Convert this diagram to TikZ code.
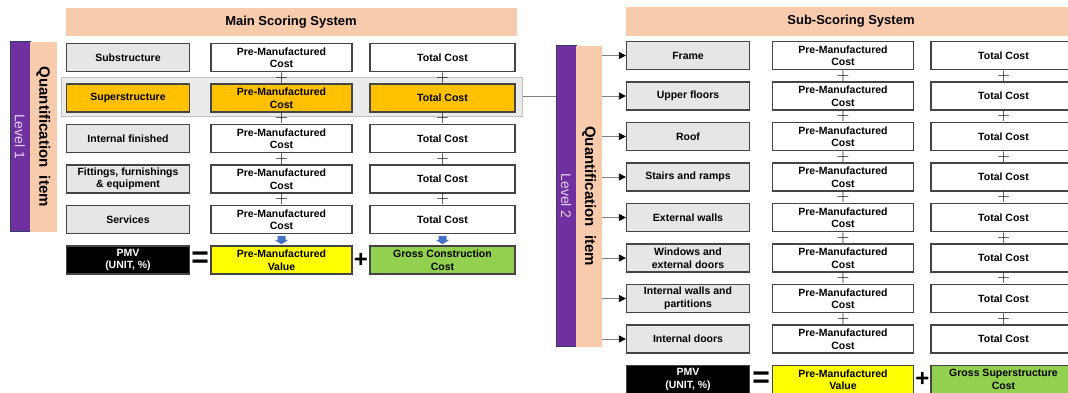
\documentclass[tikz,border=0pt]{standalone}
\usepackage{fontspec}
\setmainfont{Liberation Sans}
\usetikzlibrary{arrows.meta,calc}

\definecolor{headpeach}{HTML}{F8CBAD}
\definecolor{lvlpurple}{HTML}{7030A0}
\definecolor{lvlborder}{HTML}{2F3E63}
\definecolor{lvltext}{HTML}{E2D3F2}
\definecolor{itemgray}{HTML}{E6E6E6}
\definecolor{boxline}{HTML}{454545}
\definecolor{superorange}{HTML}{FFC000}
\definecolor{hlgray}{HTML}{EBEBEB}
\definecolor{hlline}{HTML}{BFBFBF}
\definecolor{pmvyellow}{HTML}{FFFF00}
\definecolor{grossgreen}{HTML}{92D050}
\definecolor{arrowblue}{HTML}{4472C4}

\tikzset{
  box/.style={draw=boxline, line width=1.2pt, rectangle, align=center, minimum height=28pt, inner sep=1pt,
    font=\fontsize{10.5}{12.5}\selectfont\bfseries},
  itembox/.style={box, fill=itemgray, minimum width=123pt},
  pmcbox/.style={box, fill=white, minimum width=141pt},
  totbox/.style={box, fill=white, minimum width=145pt},
  header/.style={fill=headpeach, minimum width=451pt, minimum height=28.5pt, font=\fontsize{13}{15}\selectfont\bfseries},
  hlbox/.style={fill=hlgray, draw=hlline, line width=0.8pt, minimum width=461pt, minimum height=38.3pt},
  lvlbar/.style={draw=lvlborder, line width=0.8pt, fill=lvlpurple, text=lvltext, rotate=-90, inner sep=0pt,
    font=\fontsize{14}{14}\selectfont},
  qibar/.style={fill=headpeach, rotate=-90, inner sep=0pt, font=\fontsize{15}{15}\selectfont\bfseries},
  plus/.style={inner sep=0pt, font=\fontsize{16}{16}\selectfont},
  bigop/.style={inner sep=0pt, font=\fontsize{30}{30}\selectfont\bfseries},
  bigplus/.style={inner sep=0pt, font=\fontsize{24}{24}\selectfont\bfseries},
  downarrow/.style={fill=arrowblue},
  feed/.style={draw=gray, line width=0.8pt},
  >={Triangle[length=7pt,width=7pt,color=black]}
}

\begin{document}
\begin{tikzpicture}[x=1pt, y=-1pt, node distance=40.5pt]
    \useasboundingbox (0,0) rectangle (1068,392);

    % main scoring system
    \node[header] (main) at (291,21.75) {Main Scoring System};
    \node[lvlbar, minimum width=190pt, minimum height=20pt] (lv1) at (20,136.7) {Level 1};
    \node[qibar, minimum width=190pt, minimum height=26.7pt] (qi1) at (43.35,136.7) {Quantification\ \ item};
    \node[hlbox] (hl) at (291.85,96.85) {};

    \node[itembox] (subs) at (128,57.5) {Substructure};
    \node[itembox, fill=superorange, below of=subs] (sups) {Superstructure};
    \node[itembox, below of=sups] (intf) {Internal finished};
    \node[itembox, below of=intf] (fitt) {Fittings, furnishings\\\& equipment};
    \node[itembox, below of=fitt] (serv) {Services};
    \node[box, fill=black, text=white, minimum width=123pt, below of=serv] (pmv1) {PMV\\(UNIT, \%)};

    \node[pmcbox] (subsp) at (281.5,57.5) {Pre-Manufactured\\Cost};
    \node[pmcbox, fill=superorange, below of=subsp] (supsp) {Pre-Manufactured\\Cost};
    \node[pmcbox, below of=supsp] (intfp) {Pre-Manufactured\\Cost};
    \node[pmcbox, below of=intfp] (fittp) {Pre-Manufactured\\Cost};
    \node[pmcbox, below of=fittp] (servp) {Pre-Manufactured\\Cost};
    \node[pmcbox, fill=pmvyellow, below of=servp] (val1) {Pre-Manufactured\\Value};

    \node[totbox] (subst) at (442.5,57.5) {Total Cost};
    \node[totbox, fill=superorange, below of=subst] (supst) {Total Cost};
    \node[totbox, below of=supst] (intft) {Total Cost};
    \node[totbox, below of=intft] (fittt) {Total Cost};
    \node[totbox, below of=fittt] (servt) {Total Cost};
    \node[totbox, fill=grossgreen, below of=servt] (gross1) {Gross Construction\\Cost};

    \node[plus, below of=subsp, node distance=20.25pt] (pl1) {$+$};
    \node[plus, below of=supsp, node distance=20.25pt] (pl2) {$+$};
    \node[plus, below of=intfp, node distance=20.25pt] (pl3) {$+$};
    \node[plus, below of=fittp, node distance=20.25pt] (pl4) {$+$};
    \node[plus, below of=subst, node distance=20.25pt] (pl5) {$+$};
    \node[plus, below of=supst, node distance=20.25pt] (pl6) {$+$};
    \node[plus, below of=intft, node distance=20.25pt] (pl7) {$+$};
    \node[plus, below of=fittt, node distance=20.25pt] (pl8) {$+$};
    \coordinate (ar1) at ($(servp.south)!.5!(val1.north)$);
    \coordinate (ar2) at ($(servt.south)!.5!(gross1.north)$);
    \fill[downarrow, shift={(ar1)}] (-4,-4) -- (4,-4) -- (4,0) -- (7,0) -- (0,4.5) -- (-7,0) -- (-4,0) -- cycle;
    \fill[downarrow, shift={(ar2)}] (-4,-4) -- (4,-4) -- (4,0) -- (7,0) -- (0,4.5) -- (-7,0) -- (-4,0) -- cycle;
    \node[bigop] (eq1) at ($(pmv1.east)!.5!(val1.west)$) {=};
    \node[bigplus] (add1) at ($(val1.east)!.5!(gross1.west)$) {+};

    % sub-scoring system
    \node[header] (subhead) at (851,21.25) {Sub-Scoring System};
    \node[lvlbar, minimum width=301pt, minimum height=20pt] (lv2) at (566,196.2) {Level 2};
    \node[qibar, minimum width=301pt, minimum height=26pt] (qi2) at (589,196.2) {Quantification\ \ item};

    \node[itembox] (fram) at (688,55.5) {Frame};
    \node[itembox, below of=fram] (uppf) {Upper floors};
    \node[itembox, below of=uppf] (roof) {Roof};
    \node[itembox, below of=roof] (stai) {Stairs and ramps};
    \node[itembox, below of=stai] (extw) {External walls};
    \node[itembox, below of=extw] (wind) {Windows and\\external doors};
    \node[itembox, below of=wind] (intw) {Internal walls and\\partitions};
    \node[itembox, below of=intw] (intd) {Internal doors};
    \node[box, fill=black, text=white, minimum width=123pt, below of=intd] (pmv2) {PMV\\(UNIT, \%)};

    \node[pmcbox] (framp) at (843,55.5) {Pre-Manufactured\\Cost};
    \node[pmcbox, below of=framp] (uppfp) {Pre-Manufactured\\Cost};
    \node[pmcbox, below of=uppfp] (roofp) {Pre-Manufactured\\Cost};
    \node[pmcbox, below of=roofp] (staip) {Pre-Manufactured\\Cost};
    \node[pmcbox, below of=staip] (extwp) {Pre-Manufactured\\Cost};
    \node[pmcbox, below of=extwp] (windp) {Pre-Manufactured\\Cost};
    \node[pmcbox, below of=windp] (intwp) {Pre-Manufactured\\Cost};
    \node[pmcbox, below of=intwp] (intdp) {Pre-Manufactured\\Cost};
    \node[pmcbox, fill=pmvyellow, below of=intdp] (val2) {Pre-Manufactured\\Value};

    \node[totbox] (framt) at (1003.5,55.5) {Total Cost};
    \node[totbox, below of=framt] (uppft) {Total Cost};
    \node[totbox, below of=uppft] (rooft) {Total Cost};
    \node[totbox, below of=rooft] (stait) {Total Cost};
    \node[totbox, below of=stait] (extwt) {Total Cost};
    \node[totbox, below of=extwt] (windt) {Total Cost};
    \node[totbox, below of=windt] (intwt) {Total Cost};
    \node[totbox, below of=intwt] (intdt) {Total Cost};
    \node[totbox, fill=grossgreen, below of=intdt] (gross2) {Gross Superstructure\\Cost};

    \node[plus, below of=framp, node distance=20.25pt] (pl9) {$+$};
    \node[plus, below of=uppfp, node distance=20.25pt] (pl10) {$+$};
    \node[plus, below of=roofp, node distance=20.25pt] (pl11) {$+$};
    \node[plus, below of=staip, node distance=20.25pt] (pl12) {$+$};
    \node[plus, below of=extwp, node distance=20.25pt] (pl13) {$+$};
    \node[plus, below of=windp, node distance=20.25pt] (pl14) {$+$};
    \node[plus, below of=intwp, node distance=20.25pt] (pl15) {$+$};
    \node[plus, below of=framt, node distance=20.25pt] (pl16) {$+$};
    \node[plus, below of=uppft, node distance=20.25pt] (pl17) {$+$};
    \node[plus, below of=rooft, node distance=20.25pt] (pl18) {$+$};
    \node[plus, below of=stait, node distance=20.25pt] (pl19) {$+$};
    \node[plus, below of=extwt, node distance=20.25pt] (pl20) {$+$};
    \node[plus, below of=windt, node distance=20.25pt] (pl21) {$+$};
    \node[plus, below of=intwt, node distance=20.25pt] (pl22) {$+$};
    \node[bigop] (eq2) at ($(pmv2.east)!.5!(val2.west)$) {=};
    \node[bigplus] (add2) at ($(val2.east)!.5!(gross2.west)$) {+};

    % superstructure goes to level 2
    \draw[feed] (hl.east) -- (hl.east -| lv2.south);
    \draw[feed, ->] (qi2.north |- fram.west) to (fram);
    \draw[feed, ->] (qi2.north |- uppf.west) to (uppf);
    \draw[feed, ->] (qi2.north |- roof.west) to (roof);
    \draw[feed, ->] (qi2.north |- stai.west) to (stai);
    \draw[feed, ->] (qi2.north |- extw.west) to (extw);
    \draw[feed, ->] (qi2.north |- wind.west) to (wind);
    \draw[feed, ->] (qi2.north |- intw.west) to (intw);
    \draw[feed, ->] (qi2.north |- intd.west) to (intd);
\end{tikzpicture}
\end{document}
